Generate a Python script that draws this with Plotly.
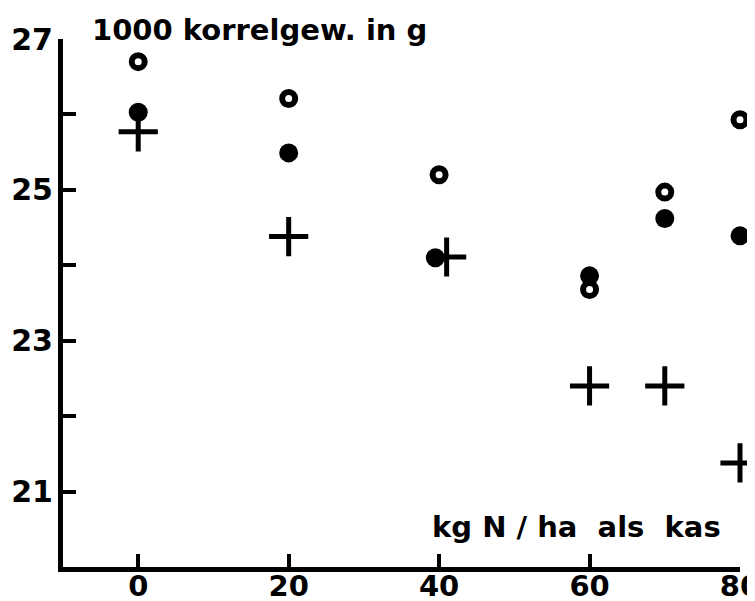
import plotly.graph_objects as go

# Data
x_open = [0, 20, 40, 60, 70, 80]
y_open = [26.70, 26.21, 25.20, 23.68, 24.97, 25.93]

x_filled = [0, 20, 39.5, 60, 70, 80]
y_filled = [26.03, 25.49, 24.10, 23.86, 24.62, 24.39]

x_plus = [0, 20, 41, 60, 70, 80]
y_plus = [25.77, 24.38, 24.11, 22.40, 22.40, 21.38]

y_tickvals = [20, 21, 22, 23, 24, 25, 26, 27]
y_ticktext = ["", "21", "", "23", "", "25", "", "27"]
x_tickvals = [0, 20, 40, 60, 80]
x_ticktext = ["0", "20", "40", "60", "80"]

FONT = "DejaVu Sans"
NB = "\u00a0"

fig = go.Figure()
fig.add_trace(go.Scatter(x=x_open, y=y_open, mode="markers",
                         marker=dict(symbol="circle-open", size=13, color="black",
                                     line=dict(width=6, color="black")),
                         showlegend=False, cliponaxis=False))
fig.add_trace(go.Scatter(x=x_filled, y=y_filled, mode="markers",
                         marker=dict(symbol="circle", size=19, color="black"),
                         showlegend=False, cliponaxis=False))
fig.add_trace(go.Scatter(x=x_plus, y=y_plus, mode="markers",
                         marker=dict(symbol="cross-thin", size=28, color="black",
                                     line=dict(width=5, color="black")),
                         showlegend=False, cliponaxis=False))

fig.update_layout(
    width=747, height=593,
    margin=dict(l=55, r=15, t=31, b=34),
    paper_bgcolor="white", plot_bgcolor="white",
    font=dict(family=FONT, color="black", size=28),
    xaxis=dict(range=[-10, 80], showgrid=False, zeroline=False, automargin=False,
               showline=True, linewidth=5, linecolor="black",
               ticks="inside", ticklen=13, tickwidth=4, tickcolor="black",
               tickvals=x_tickvals, ticktext=x_ticktext,
               tickfont=dict(family=FONT, size=29, color="black", weight="bold"),
               ticklabelstandoff=-11, ticklabeloverflow="allow"),
    yaxis=dict(range=[20, 27], showgrid=False, zeroline=False, automargin=False,
               showline=True, linewidth=5, linecolor="black",
               ticks="inside", ticklen=13, tickwidth=4, tickcolor="black",
               tickvals=y_tickvals, ticktext=y_ticktext,
               tickfont=dict(family=FONT, size=30, color="black", weight="bold"),
               ticklabelstandoff=-1, ticklabeloverflow="allow"),
    annotations=[
        dict(text="<b>1000 korrelgew. in g</b>", xref="paper", yref="paper",
             x=0.04, y=1.017, xanchor="left", yanchor="middle", showarrow=False,
             font=dict(family=FONT, size=29, color="black")),
        dict(text="<b>kg" + NB + "N" + NB + "/" + NB + "ha" + NB + NB + "als" + NB + NB + "kas</b>",
             xref="paper", yref="paper",
             x=0.975, y=0.076, xanchor="right", yanchor="middle", showarrow=False,
             font=dict(family=FONT, size=29, color="black")),
    ],
)

fig.write_html("out.html")
